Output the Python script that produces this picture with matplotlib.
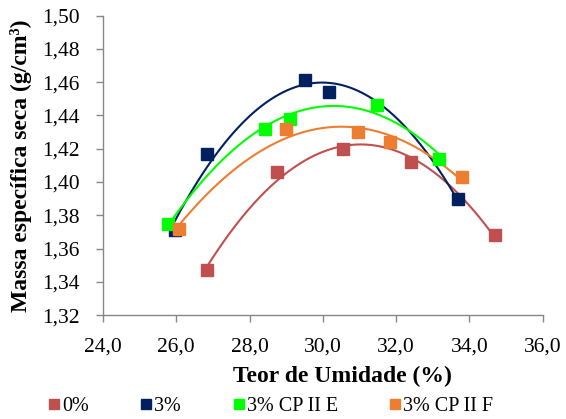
import numpy as np
import matplotlib
matplotlib.use('Agg')
import matplotlib.pyplot as plt
import matplotlib.ticker as ticker

# Compaction data: moisture content (%) vs dry density (g/cm3)
labels = ['0%', '3%', '3% CP II E', '3% CP II F']
colors = ['#C0504D', '#002060', '#00FF00', '#ED7D31']

umid_0 = [26.84, 28.76, 30.55, 32.41, 34.69]
dens_0 = [1.347, 1.406, 1.420, 1.412, 1.368]

umid_3 = [25.96, 26.85, 29.52, 30.16, 33.68]
dens_3 = [1.371, 1.417, 1.461, 1.454, 1.390]

umid_3e = [25.78, 28.41, 29.10, 31.47, 33.18]
dens_3e = [1.375, 1.432, 1.438, 1.446, 1.414]

umid_3f = [26.06, 28.98, 30.95, 31.82, 33.80]
dens_3f = [1.372, 1.432, 1.430, 1.424, 1.403]

series = [(umid_0, dens_0), (umid_3, dens_3), (umid_3e, dens_3e), (umid_3f, dens_3f)]

plt.rcParams['font.family'] = ['Liberation Serif', 'DejaVu Serif']

fig = plt.figure(figsize=(5.66, 4.19), dpi=100)
ax = fig.add_axes([0.182, 0.248, 0.777, 0.715])

handles = []
for (x, y), c, lab in zip(series, colors, labels):
  x = np.array(x)
  y = np.array(y)
  # 2nd order trendline
  p = np.polyfit(x, y, 2)
  xf = np.linspace(x.min(), x.max(), 200)
  ax.plot(xf, np.polyval(p, xf), color=c, lw=1.5, zorder=2)
  ax.plot(x, y, marker='s', ms=8, color=c, linestyle='None', zorder=3)
  h, = ax.plot([], [], marker='s', ms=7, color=c, linestyle='None', label=lab)
  handles.append(h)

ax.set_xlim(24, 36)
ax.set_ylim(1.32, 1.50)
ax.xaxis.set_major_locator(ticker.MultipleLocator(2))
ax.yaxis.set_major_locator(ticker.MultipleLocator(0.02))
ax.xaxis.set_major_formatter(ticker.FuncFormatter(lambda v, pos: '{:.1f}'.format(v).replace('.', ',')))
ax.yaxis.set_major_formatter(ticker.FuncFormatter(lambda v, pos: '{:.2f}'.format(v).replace('.', ',')))

for s in ['top', 'right']:
  ax.spines[s].set_visible(False)
for s in ['left', 'bottom']:
  ax.spines[s].set_color('#878787')
  ax.spines[s].set_linewidth(1.0)
ax.tick_params(axis='both', direction='out', length=5, color='#878787', labelsize=15.5, width=1.0)
ax.tick_params(axis='y', pad=12)
ax.tick_params(axis='x', pad=11)

ax.set_xlabel('Teor de Umidade (%)', fontsize=17, fontweight='bold', labelpad=12)
ax.xaxis.set_label_coords(0.545, -0.17)
ax.set_ylabel('Massa específica seca (g/cm³)', fontsize=17, fontweight='bold', labelpad=7)

fig.legend(handles=handles, loc='center', bbox_to_anchor=(0.479, 0.03), ncol=4, frameon=False,
           fontsize=14.5, handlelength=0.5, handletextpad=0.15, columnspacing=2.6,
           borderpad=0.1, borderaxespad=0.1)

fig.savefig('out.png', dpi=100)
